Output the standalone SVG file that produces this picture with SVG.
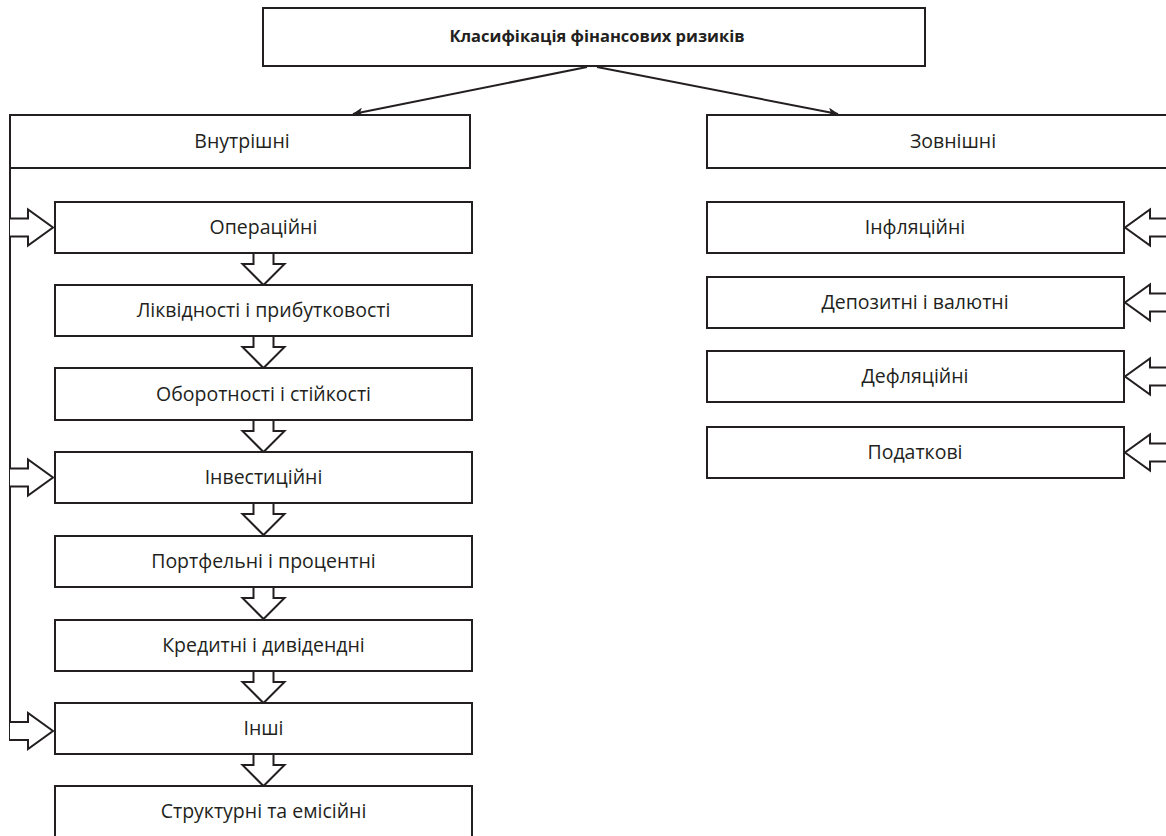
<svg xmlns="http://www.w3.org/2000/svg" width="1166" height="836" viewBox="0 0 1166 836">
<style>
.box{fill:#fff;stroke:#231f20;stroke-width:2}
.lbl{font-family:"Open Sans","Noto Sans",sans-serif;font-size:19.5px;fill:#231f20;text-anchor:middle}
.ttl{font-family:"Open Sans","Noto Sans",sans-serif;font-size:16.5px;font-weight:bold;fill:#231f20;text-anchor:middle}
.ln{fill:none;stroke:#231f20;stroke-width:2}
.arr{fill:#fff;stroke:#231f20;stroke-width:2;stroke-linejoin:miter}
</style>
<defs>
<marker id="ah" viewBox="0 0 12 10" refX="11" refY="5" markerWidth="11" markerHeight="9" markerUnits="userSpaceOnUse" orient="auto">
<path d="M0,0 L12,5 L0,10 L3,5 Z" fill="#231f20"/>
</marker>
<path id="dn" class="arr" d="M-10,0 V11 H-21 L0,32 L21,11 H10 V0"/>
<path id="lt" class="arr" d="M10,-9 H28 V-18 L53,0 L28,18 V9 H10"/>
<path id="rt" class="arr" d="M1170,-9 H1150 V-18 L1125,0 L1150,18 V9 H1170"/>
</defs>
<g id="connectors">
<line class="ln" x1="587" y1="67" x2="353" y2="114" marker-end="url(#ah)"/>
<line class="ln" x1="597" y1="67" x2="838" y2="114" marker-end="url(#ah)"/>
<path class="ln" d="M10,168 V740 H28"/>
<use href="#lt" x="0" y="227.5"/>
<use href="#lt" x="0" y="477.5"/>
<use href="#lt" x="0" y="731"/>
<use href="#dn" x="263.5" y="253"/>
<use href="#dn" x="263.5" y="336"/>
<use href="#dn" x="263.5" y="420"/>
<use href="#dn" x="263.5" y="503"/>
<use href="#dn" x="263.5" y="587"/>
<use href="#dn" x="263.5" y="671"/>
<use href="#dn" x="263.5" y="754"/>
<use href="#rt" x="0" y="227.5"/>
<use href="#rt" x="0" y="302.5"/>
<use href="#rt" x="0" y="376.5"/>
<use href="#rt" x="0" y="452.5"/>
</g>
<g id="n-title"><rect class="box" x="263" y="8" width="662" height="58"/><text class="ttl" x="597" y="42">Класифікація фінансових ризиків</text></g>
<g id="n-vnutr"><rect class="box" x="10" y="115" width="460" height="53"/><text class="lbl" x="242" y="148">Внутрішні</text></g>
<g id="n-zovn"><rect class="box" x="707" y="115" width="470" height="53"/><text class="lbl" x="953" y="148">Зовнішні</text></g>
<g id="n-oper"><rect class="box" x="55" y="202" width="417" height="51"/><text class="lbl" x="263.5" y="234">Операційні</text></g>
<g id="n-likv"><rect class="box" x="55" y="285" width="417" height="51"/><text class="lbl" x="263.5" y="317">Ліквідності і прибутковості</text></g>
<g id="n-obor"><rect class="box" x="55" y="368" width="417" height="52"/><text class="lbl" x="263.5" y="400.5">Оборотності і стійкості</text></g>
<g id="n-inv"><rect class="box" x="55" y="452" width="417" height="51"/><text class="lbl" x="263.5" y="484">Інвестиційні</text></g>
<g id="n-port"><rect class="box" x="55" y="536" width="417" height="51"/><text class="lbl" x="263.5" y="568">Портфельні і процентні</text></g>
<g id="n-kred"><rect class="box" x="55" y="620" width="417" height="51"/><text class="lbl" x="263.5" y="652">Кредитні і дивідендні</text></g>
<g id="n-inshi"><rect class="box" x="55" y="703" width="417" height="51"/><text class="lbl" x="263.5" y="735">Інші</text></g>
<g id="n-strukt"><rect class="box" x="55" y="786" width="417" height="70"/><text class="lbl" x="263.5" y="818">Структурні та емісійні</text></g>
<g id="n-infl"><rect class="box" x="707" y="202" width="417" height="51"/><text class="lbl" x="915" y="234">Інфляційні</text></g>
<g id="n-depoz"><rect class="box" x="707" y="277" width="417" height="51"/><text class="lbl" x="915" y="309">Депозитні і валютні</text></g>
<g id="n-defl"><rect class="box" x="707" y="351" width="417" height="51"/><text class="lbl" x="915" y="383">Дефляційні</text></g>
<g id="n-podat"><rect class="box" x="707" y="427" width="417" height="51"/><text class="lbl" x="915" y="459">Податкові</text></g>
</svg>
